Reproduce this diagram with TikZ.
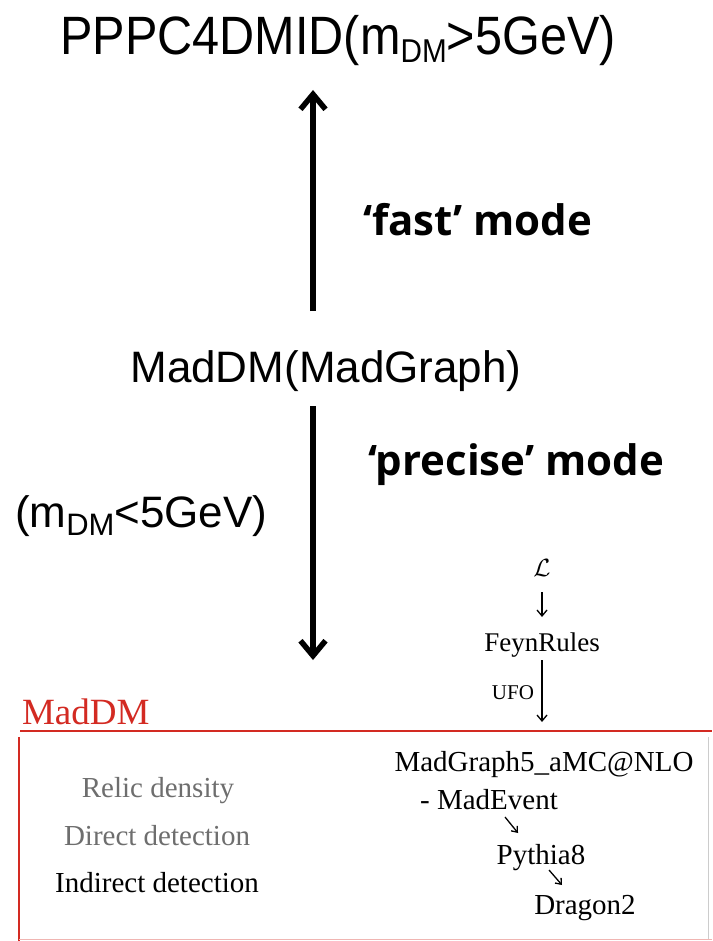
\documentclass[tikz,border=0pt]{standalone}
\usepackage{fontspec}
\usetikzlibrary{arrows.meta}
\setmainfont{Liberation Serif}
\newfontfamily\sanslib{Liberation Sans}
\newfontfamily\opensans{Open Sans}
\definecolor{mdred}{HTML}{D32A22}
\definecolor{mdgray}{HTML}{6E6E6E}
\tikzset{
  x=1pt, y=-1pt,
  txt/.style={inner sep=0pt, outer sep=0pt},
  bigsans/.style={txt, font=\sanslib\fontsize{44}{44}\selectfont},
  boldmode/.style={txt, font=\opensans\bfseries\fontsize{42}{42}\selectfont},
  serif/.style={txt, font=\fontsize{29}{29}\selectfont},
  bigarr/.style={line width=5.5pt, -{Straight Barb[length=15pt, width=25pt]}},
  thinarr/.style={line width=1.3pt, -{Straight Barb[length=6pt, width=10pt]}},
  diagarr/.style={line width=1.3pt, -{Straight Barb[length=5pt, width=8pt]}},
}
\begin{document}
\begin{tikzpicture}
\useasboundingbox (0,0) rectangle (712,941);
\fill[white] (0,0) rectangle (712,941);

% upper part
\node[txt, anchor=base] (ppc) at (338,55)
  {\scalebox{0.9}[1]{\sanslib\fontsize{54}{54}\selectfont PPPC4DMID(m\raisebox{-8pt}{\fontsize{33}{33}\selectfont DM}>5GeV)}};
\node[bigsans, anchor=base] (mg) at (326,382) {MadDM(MadGraph)};
\node[boldmode, anchor=base west] (fast) at (363,235) {‘fast’ mode};
\node[boldmode, anchor=base west] (precise) at (368,475) {‘precise’ mode};
\node[bigsans, anchor=base west] (low) at (15,527)
  {(m\raisebox{-8pt}{\fontsize{31}{31}\selectfont DM}<5GeV)};

\coordinate (upS) at (313,311);
\coordinate (upE) at (313,90);
\coordinate (dnS) at (313,406);
\coordinate (dnE) at (313,660);
\draw[bigarr] (upS) -- (upE);
\draw[bigarr] (dnS) -- (dnE);

% lower part (MadDM panel)
\node[txt, anchor=center] (L) at (542,568) {\fontsize{34}{34}\selectfont$\mathcal{L}$};
\node[txt, anchor=base, font=\fontsize{27}{27}\selectfont] (feyn) at (542,651) {FeynRules};
\node[txt, anchor=base east, font=\fontsize{21}{21}\selectfont] (ufo) at (534,699) {UFO};
\node[txt, anchor=base west, font=\fontsize{37}{37}\selectfont, text=mdred] (maddm) at (22,724) {MadDM};

\draw[mdred, line width=2.5pt] (20,731) -- (712,731);
\draw[mdred, line width=1.4pt] (19,737) -- (19,941);
\draw[mdred!35, line width=1pt] (19,939.5) -- (712,939.5);
\draw[black!20, line width=0.8pt] (708,737) -- (708,939);

\node[serif, anchor=base] (mg5) at (544,771) {MadGraph5\_aMC@NLO};
\node[serif, anchor=base] (madevent) at (489,809) {- MadEvent};
\node[serif, anchor=base] (pythia) at (541,864) {Pythia8};
\node[serif, anchor=base] (dragon) at (585,914) {Dragon2};
\node[serif, anchor=base, text=mdgray] (relic) at (158,797) {Relic density};
\node[serif, anchor=base, text=mdgray] (direct) at (157,845) {Direct detection};
\node[serif, anchor=base] (indirect) at (157,892) {Indirect detection};

\coordinate (a1s) at (542,592);
\coordinate (a1e) at (542,617);
\coordinate (a2s) at (542,660);
\coordinate (a2e) at (542,722);
\draw[thinarr] (a1s) -- (a1e);
\draw[thinarr] (a2s) -- (a2e);
\coordinate (d1s) at (505,817);
\coordinate (d1e) at (518,833);
\coordinate (d2s) at (549,870);
\coordinate (d2e) at (562,885);
\draw[diagarr] (d1s) -- (d1e);
\draw[diagarr] (d2s) -- (d2e);
\end{tikzpicture}
\end{document}
